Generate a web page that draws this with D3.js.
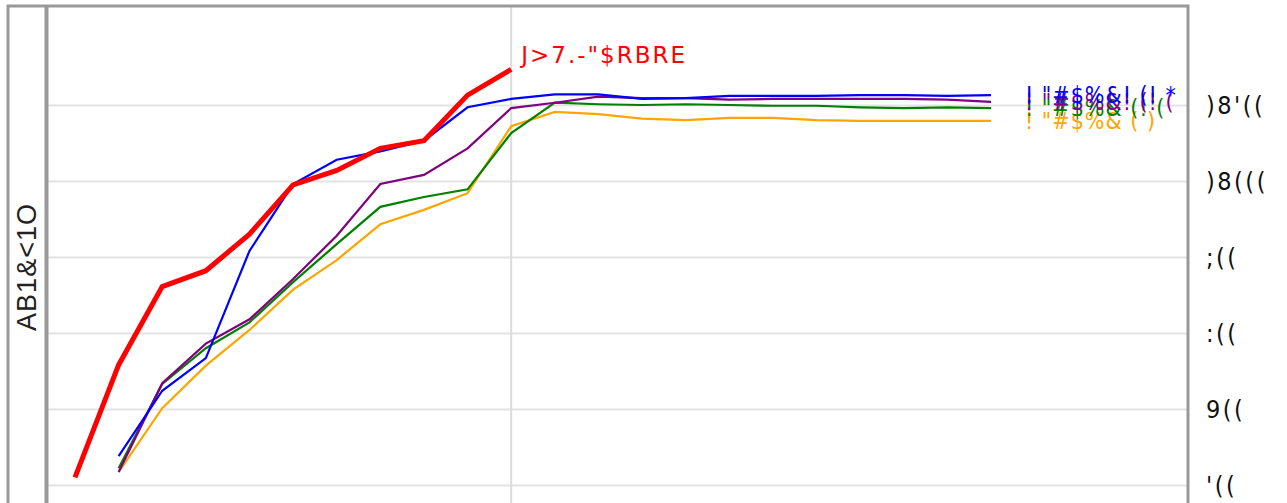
<!DOCTYPE html>
<html>
<head>
<meta charset="utf-8">
<script src="https://cdn.jsdelivr.net/npm/d3@7"></script>
<style>
  html, body { margin: 0; padding: 0; background: #fff; overflow: hidden; }
  #chart { width: 1287px; height: 503px; }
  .grid line { stroke: #e3e3e3; stroke-width: 2; }
  .grid path { display: none; }
  .tick-lbl text { font-family: "DejaVu Sans Condensed", "DejaVu Sans", sans-serif; font-stretch: condensed; font-size: 25px; letter-spacing: 2.5px; fill: #111; }
  .tick-lbl path, .tick-lbl line { display: none; }
</style>
</head>
<body>
<div id="chart"></div>
<script>
// Datos
const tickValues = [0, 100, 200, 300, 400, 500];
const tickLabels = ["'((", "9((", ":((", ";((", ")8(((", ")8'(("];

const redName = "J>7.-\"$RBRE";
const redValues = [10, 158, 261, 282, 330, 395, 414, 443, 453, 513, 547];

const seriesNames = ["! \"#$%& ( )", "! \"#$%& (! (", "! \"#$%&! (! (", "! \"#$%&! (! *"];
const seriesColors = ["orange", "green", "purple", "blue"];
const orangeValues = [17, 101, 157, 204, 257, 296, 343, 362, 384, 472, 491, 488, 482, 480, 483, 483, 480, 479, 479, 479, 479];
const greenValues  = [22, 133, 180, 214, 267, 317, 366, 379, 389, 463, 503, 501, 500, 501, 500, 499, 499, 497, 496, 497, 496];
const purpleValues = [17, 134, 186, 218, 271, 328, 396, 408, 443, 496, 503, 511, 509, 509, 507, 508, 508, 508, 508, 507, 504];
const blueValues   = [38, 124, 167, 308, 396, 428, 439, 453, 497, 508, 514, 514, 508, 509, 512, 512, 512, 513, 513, 512, 513];

const yTitle = "AB1&<1O";

// Dimensiones
const W = 1287, H = 503;
const plotLeft = 48, plotRight = 1188, plotTop = 6;

const svg = d3.select("#chart").append("svg")
  .attr("width", W).attr("height", H);

const x = d3.scaleLinear().domain([0, 21]).range([75, 991]);
const y = d3.scaleLinear().domain([0, 500]).range([485, 105]);

// Lineas de cuadricula
svg.append("g")
  .attr("class", "grid")
  .attr("transform", `translate(${plotLeft},0)`)
  .call(d3.axisLeft(y).tickValues(tickValues).tickSize(-(plotRight - plotLeft)).tickFormat(""));

svg.append("line")
  .attr("x1", x(10)).attr("x2", x(10))
  .attr("y1", plotTop).attr("y2", H + 20)
  .attr("stroke", "#dcdcdc").attr("stroke-width", 2);

// Etiquetas del eje derecho
svg.append("g")
  .attr("class", "tick-lbl")
  .attr("transform", `translate(${plotRight + 15},0)`)
  .call(d3.axisRight(y).tickValues(tickValues).tickSize(0)
    .tickFormat((d, i) => tickLabels[i]));

// Marco
svg.append("rect")
  .attr("x", 8).attr("y", plotTop)
  .attr("width", plotRight - 8).attr("height", H + 40)
  .attr("fill", "none").attr("stroke", "#999").attr("stroke-width", 3);

svg.append("line")
  .attr("x1", 46.5).attr("x2", 46.5)
  .attr("y1", plotTop).attr("y2", H + 20)
  .attr("stroke", "#999").attr("stroke-width", 4);

// Titulo eje Y
svg.append("text")
  .attr("transform", "translate(36,267) rotate(-90)")
  .attr("text-anchor", "middle")
  .style("font-family", "'Liberation Sans', Arial, sans-serif")
  .style("font-size", "27px")
  .style("letter-spacing", "1px")
  .style("fill", "#222")
  .text(yTitle);

// Series
const line = d3.line().x(d => x(d.i)).y(d => y(d.v));
const allSeries = [orangeValues, greenValues, purpleValues, blueValues];

allSeries.forEach((vals, k) => {
  const pts = vals.map((v, j) => ({ i: j + 1, v: v }));
  svg.append("path")
    .datum(pts)
    .attr("d", line)
    .attr("fill", "none")
    .attr("stroke", seriesColors[k])
    .attr("stroke-width", 2.2);

  const last = pts[pts.length - 1];
  svg.append("text")
    .attr("x", x(last.i) + 34)
    .attr("y", y(last.v) + 8)
    .style("font-family", "'DejaVu Sans Condensed', 'DejaVu Sans', sans-serif")
    .style("font-stretch", "condensed")
    .style("font-size", "23px")
    .style("letter-spacing", "1px")
    .style("fill", seriesColors[k])
    .text(seriesNames[k]);
});

const redPts = redValues.map((v, j) => ({ i: j, v: v }));
svg.append("path")
  .datum(redPts)
  .attr("d", line)
  .attr("fill", "none")
  .attr("stroke", "red")
  .attr("stroke-width", 5);

const redLast = redPts[redPts.length - 1];
svg.append("text")
  .attr("x", x(redLast.i) + 10)
  .attr("y", y(redLast.v) - 6)
  .style("font-family", "'DejaVu Sans', sans-serif")
  .style("font-size", "23px")
  .style("letter-spacing", "2px")
  .style("fill", "red")
  .text(redName);
</script>
</body>
</html>
